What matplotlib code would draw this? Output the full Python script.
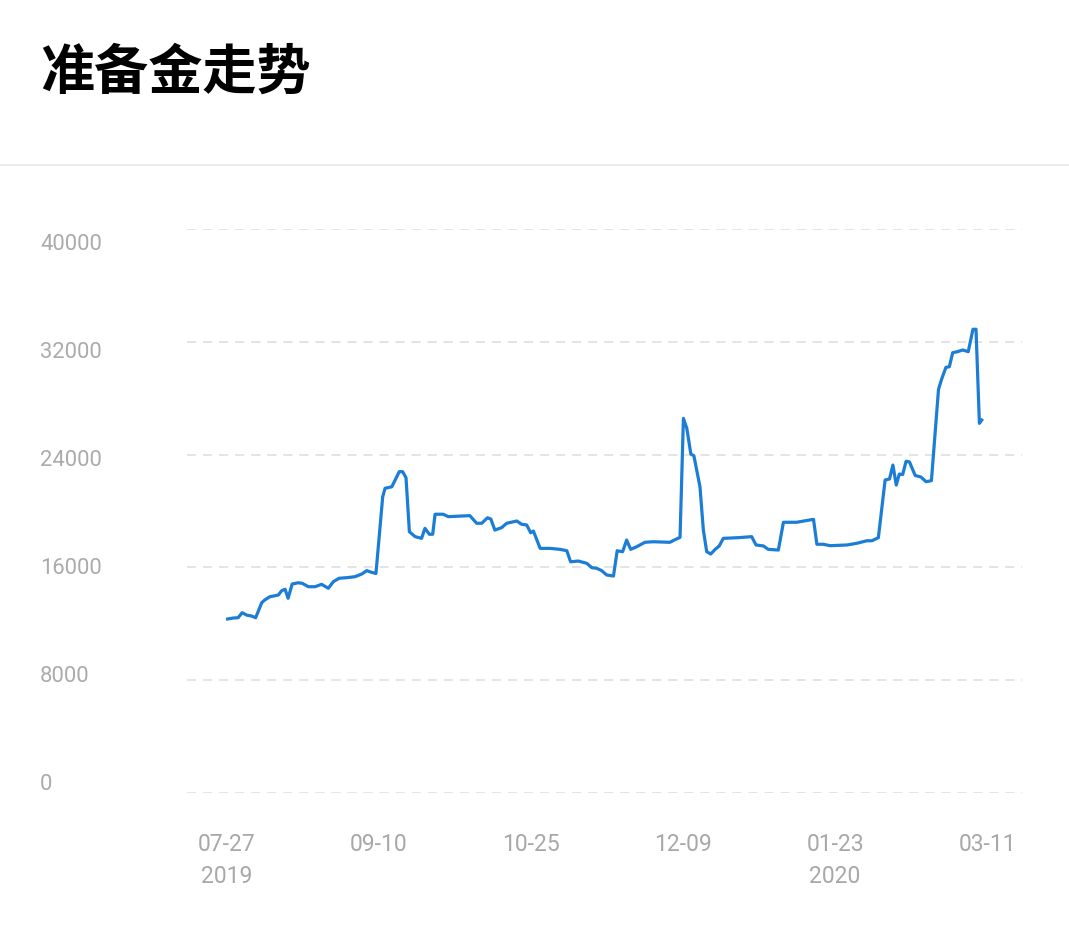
import matplotlib
matplotlib.use('Agg')
import matplotlib.pyplot as plt
from matplotlib import font_manager
from matplotlib.lines import Line2D

# データ (曲線の頂点: x は日数インデックス, y は準備金)
x_idx = [0.2, 1.9, 3.3, 4.5, 5.8, 7.3, 8.5, 10.3, 11.2, 12.7, 15.2, 16.2, 17.2, 18.1,
         19.3, 21.1, 22.3, 24.1, 26.1, 28.0, 30.0, 31.5, 33.2, 35.4, 37.9, 39.9, 41.4,
         42.8, 44.1, 46.1, 46.8, 48.8, 51.0, 52.0, 53.0, 54.0, 55.7, 57.6, 58.6, 59.9,
         60.9, 61.6, 64.0, 65.5, 71.9, 73.9, 75.4, 77.1, 78.1, 79.3, 81.3, 82.8, 85.8,
         87.2, 88.7, 89.9, 90.7, 92.7, 95.6, 98.6, 100.6, 101.7, 104.0, 106.5, 108.0,
         109.4, 110.9, 112.4, 114.4, 115.5, 117.1, 118.3, 119.5, 121.3, 123.7, 126.2,
         131.1, 132.4, 134.1, 135.1, 136.1, 137.3, 138.2, 140.0, 141.0, 142.0, 143.2,
         144.5, 145.7, 146.9, 151.4, 155.3, 156.6, 158.8, 160.2, 163.2, 164.7, 168.6,
         173.6, 174.6, 176.5, 178.5, 183.5, 186.4, 189.4, 190.9, 192.8, 194.8, 196.1,
         197.1, 198.1, 199.0, 200.0, 201.0, 202.0, 203.7, 205.4, 206.9, 208.5, 210.6,
         211.6, 212.8, 213.8, 214.8, 216.2, 217.8, 219.4, 220.8, 221.7, 222.7, 223.4]
reserve = [12340, 12410, 12430, 12790, 12620, 12550, 12430, 13500, 13690, 13920, 14040,
           14350, 14450, 13810, 14820, 14910, 14870, 14630, 14630, 14800, 14520, 14990,
           15230, 15270, 15340, 15530, 15770, 15650, 15570, 21010, 21610, 21720, 22790,
           22790, 22360, 18530, 18180, 18060, 18770, 18350, 18350, 19770, 19770, 19600,
           19670, 19130, 19130, 19520, 19430, 18650, 18820, 19130, 19290, 19060, 19010,
           18460, 18580, 17350, 17350, 17280, 17180, 16400, 16450, 16290, 15980, 15940,
           15770, 15460, 15390, 17180, 17110, 17940, 17280, 17470, 17780, 17820, 17780,
           17940, 18130, 26570, 25870, 24040, 23920, 21720, 18650, 17110, 16950, 17280,
           17520, 18060, 18110, 18180, 17590, 17520, 17280, 17230, 19200, 19200, 19410,
           17640, 17640, 17540, 17590, 17710, 17890, 17890, 18110, 22200, 22270, 23260,
           21840, 22620, 22590, 23530, 23480, 22520, 22410, 22080, 22150, 28630, 29410,
           30190, 30230, 31230, 31300, 31420, 31300, 32890, 32890, 26220, 26450]

# 軸ラベル
x_ticks = [0, 45, 90, 135, 180, 225]
x_labels = ['07-27\n2019', '09-10', '10-25', '12-09', '01-23\n2020', '03-11']
y_ticks = [0, 8000, 16000, 24000, 32000, 40000]

# フォント (細いフォントがあれば使う)
names = {f.name for f in font_manager.fontManager.ttflist}
x_font = 'Liberation Sans Narrow' if 'Liberation Sans Narrow' in names else 'Roboto'
x_size = 19 if x_font == 'Liberation Sans Narrow' else 16.5

fig = plt.figure(figsize=(10.69, 9.39), dpi=100)
ax = fig.add_axes([0.175, 0.1555, 0.781, 0.6006])

# 折れ線
ax.plot(x_idx, reserve, color='#1b7dd5', linewidth=2.3, solid_joinstyle='round')

ax.set_ylim(0, 40000)
ax.set_xlim(-11.8, 235.3)
ax.set_yticks(y_ticks)
ax.yaxis.grid(True, color='#dcdcdc', linestyle=(0, (6, 4.5)), linewidth=1.1)
ax.set_yticklabels([])
ax.tick_params(axis='y', length=0)
for s in ax.spines.values():
    s.set_visible(False)

# y軸ラベル (画面上の位置は目盛線とずれている)
for i, v in enumerate(y_ticks):
    fig.text(40 / 1069, 1 - (784 - i * 107.8) / 939, str(v), ha='left', va='center',
             fontsize=15.8, color='#ababab', family='Roboto')

# x軸ラベル
ax.set_xticks(x_ticks)
ax.set_xticklabels(x_labels, family=x_font, fontsize=x_size, color='#a8a8a8',
                   linespacing=1.5, va='top')
ax.tick_params(axis='x', length=0, pad=29)

# タイトル
fig.text(40 / 1069, 1 - 73 / 939, '准备金走势', ha='left', va='center', fontsize=39,
         fontweight='bold', family=['Noto Sans CJK SC', 'DejaVu Sans'], color='black')

# 区切り線
fig.add_artist(Line2D([0, 1], [1 - 165 / 939, 1 - 165 / 939], color='#e8e8e8',
                      linewidth=1.2, transform=fig.transFigure))

fig.savefig('out.png', dpi=100)
